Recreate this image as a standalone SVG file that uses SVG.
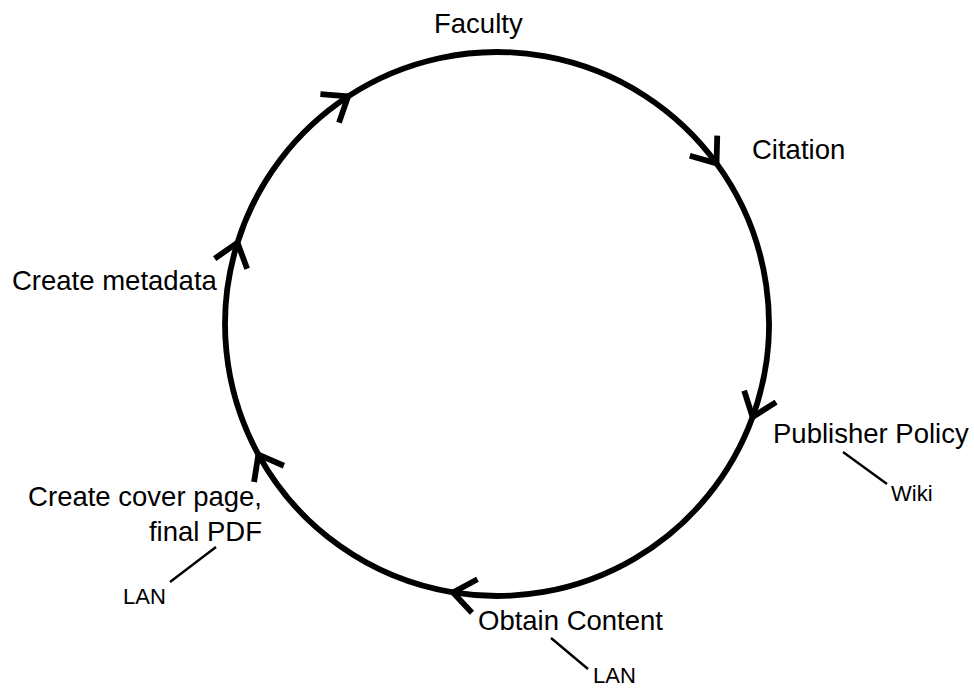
<svg xmlns="http://www.w3.org/2000/svg" width="974" height="689" viewBox="0 0 974 689">
<style>
text { font-family: "Liberation Sans", Arial, sans-serif; fill: #000; }
.big { font-size: 27.5px; }
.small { font-size: 22px; }
.ring { fill: none; stroke: #000; stroke-width: 5.8; }
.lead { stroke: #000; stroke-width: 2.4; fill: none; }
</style>
<defs>
<marker id="barb" markerUnits="userSpaceOnUse" orient="auto" refX="0" refY="0" markerWidth="50" markerHeight="50" viewBox="-35 -25 50 50" overflow="visible">
<path d="M-22,-17 L0,0 L-22,17" fill="none" stroke="#000" stroke-width="5.8" stroke-linejoin="miter"/>
</marker>
</defs>
<g id="connectors">
<path class="ring" marker-mid="url(#barb)" marker-end="url(#barb)" d="M237.5,242.7 A272,272 0 0 1 348.1,96.4 A272,272 0 0 1 716.5,163.4 A272,272 0 0 1 752.6,417.0 A272,272 0 0 1 453.0,592.4 A272,272 0 0 1 258.4,454.6 A272,272 0 0 1 237.5,242.7"/>
<line class="lead" x1="843" y1="452" x2="887" y2="484"/>
<line class="lead" x1="216" y1="547" x2="170" y2="582"/>
<line class="lead" x1="551" y1="638" x2="588" y2="669"/>
</g>
<g id="faculty"><text class="big" x="434" y="33">Faculty</text></g>
<g id="citation"><text class="big" x="752" y="159">Citation</text></g>
<g id="publisher-policy"><text class="big" x="773" y="443">Publisher Policy</text></g>
<g id="wiki"><text class="small" x="891" y="501">Wiki</text></g>
<g id="obtain-content"><text class="big" x="478" y="630">Obtain Content</text></g>
<g id="lan-bottom"><text class="small" x="593" y="683">LAN</text></g>
<g id="create-cover"><text class="big" text-anchor="end" x="262" y="506">Create cover page,</text><text class="big" text-anchor="end" x="262" y="541">final PDF</text></g>
<g id="lan-left"><text class="small" x="123" y="604">LAN</text></g>
<g id="create-metadata"><text class="big" x="12" y="290">Create metadata</text></g>
</svg>
